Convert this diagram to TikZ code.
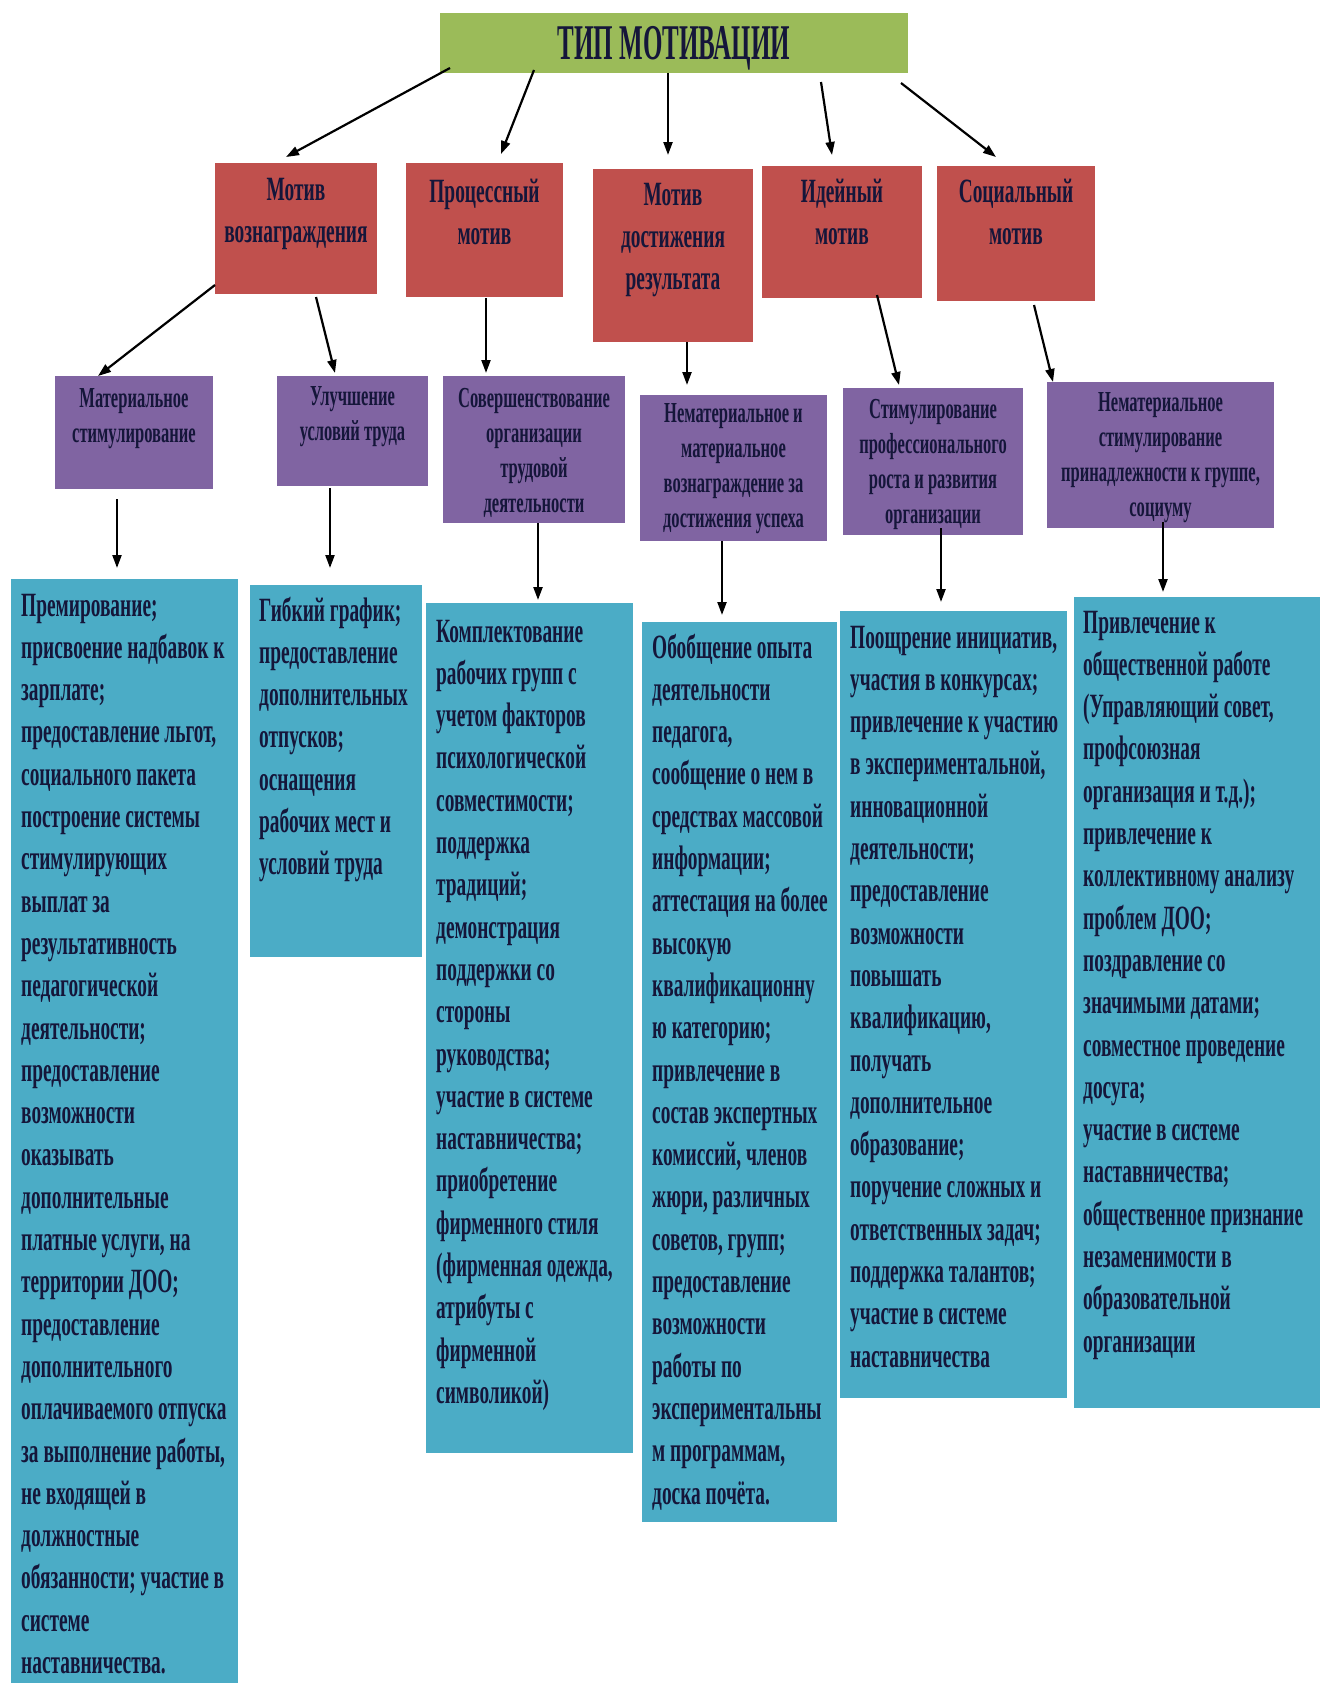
\documentclass[tikz,border=0pt]{standalone}
\usepackage{fontspec}
\setmainfont{Liberation Serif}
\newfontfamily\boxfont{Liberation Serif}[FakeStretch=0.57]
\newfontfamily\titlefont{Liberation Serif}[FakeStretch=0.5]
\usepackage{xcolor}
\usepackage{tikz}
\usetikzlibrary{arrows.meta}

\definecolor{tipgreen}{HTML}{9BBB59}
\definecolor{motred}{HTML}{C0504D}
\definecolor{subviolet}{HTML}{8064A2}
\definecolor{listblue}{HTML}{4BACC6}
\definecolor{ink}{HTML}{15163A}

\begin{document}
\begin{tikzpicture}[x=1pt,y=1pt,
  >={Triangle[length=13pt,width=9pt]},
  arr/.style={line width=2.2pt,black,->},
  box/.style={anchor=north west,inner sep=0pt,outer sep=0pt},
  bigtxt/.style={text=ink,font=\boxfont\bfseries\fontsize{34}{42.3}\selectfont,inner sep=0pt,anchor=base},
  smalltxt/.style={text=ink,font=\boxfont\bfseries\fontsize{29}{35}\selectfont,inner sep=0pt,anchor=base,align=flush center}]
\useasboundingbox (0,0) rectangle (1320,-1683);

% title
\node[box,fill=tipgreen,minimum width=468pt,minimum height=60pt,text height=33pt,text depth=0pt,
  text=ink,font=\titlefont\bfseries\fontsize{50}{60}\selectfont] (t) at (440,-13) {ТИП МОТИВАЦИИ};

% motives
\node[box,fill=motred,minimum width=162pt,minimum height=131pt] (r1) at (215,-163) {};
\node[box,fill=motred,minimum width=157pt,minimum height=134pt] (r2) at (406,-163) {};
\node[box,fill=motred,minimum width=160pt,minimum height=173pt] (r3) at (593,-169) {};
\node[box,fill=motred,minimum width=160pt,minimum height=132pt] (r4) at (762,-166) {};
\node[box,fill=motred,minimum width=158pt,minimum height=135pt] (r5) at (937,-166) {};

\node[bigtxt,align=flush center,text width=162pt] (r1t) at (296,-200) {Мотив\\вознаграждения};
\node[bigtxt,align=flush center,text width=157pt] (r2t) at (484.5,-202) {Процессный\\мотив};
\node[bigtxt,align=flush center,text width=160pt] (r3t) at (673,-205) {Мотив\\достижения\\результата};
\node[bigtxt,align=flush center,text width=160pt] (r4t) at (842,-202) {Идейный\\мотив};
\node[bigtxt,align=flush center,text width=158pt] (r5t) at (1016,-202) {Социальный\\мотив};

% ways
\node[box,fill=subviolet,minimum width=158pt,minimum height=113pt] (p1) at (55,-376) {};
\node[box,fill=subviolet,minimum width=151pt,minimum height=110pt] (p2) at (277,-376) {};
\node[box,fill=subviolet,minimum width=182pt,minimum height=147pt] (p3) at (443,-376) {};
\node[box,fill=subviolet,minimum width=187pt,minimum height=146pt] (p4) at (640,-395) {};
\node[box,fill=subviolet,minimum width=180pt,minimum height=147pt] (p5) at (843,-388) {};
\node[box,fill=subviolet,minimum width=227pt,minimum height=146pt] (p6) at (1047,-382) {};

\node[smalltxt,text width=158pt] (p1t) at (134,-407) {Материальное\\стимулирование};
\node[smalltxt,text width=151pt] (p2t) at (352.5,-405) {Улучшение\\условий труда};
\node[smalltxt,text width=182pt] (p3t) at (534,-407) {Совершенствование\\организации\\трудовой\\деятельности};
\node[smalltxt,text width=187pt] (p4t) at (733.5,-422) {Нематериальное и\\материальное\\вознаграждение за\\достижения успеха};
\node[smalltxt,text width=180pt] (p5t) at (933,-418) {Стимулирование\\профессионального\\роста и развития\\организации};
\node[smalltxt,text width=227pt] (p6t) at (1160.5,-411) {Нематериальное\\стимулирование\\принадлежности к группе,\\социуму};

% lists
\node[box,fill=listblue,minimum width=227pt,minimum height=1104pt] (b1) at (11,-579) {};
\node[box,fill=listblue,minimum width=172pt,minimum height=372pt] (b2) at (250,-585) {};
\node[box,fill=listblue,minimum width=207pt,minimum height=850pt] (b3) at (426,-603) {};
\node[box,fill=listblue,minimum width=195pt,minimum height=900pt] (b4) at (642,-622) {};
\node[box,fill=listblue,minimum width=227pt,minimum height=787pt] (b5) at (840,-611) {};
\node[box,fill=listblue,minimum width=246pt,minimum height=811pt] (b6) at (1074,-597) {};

\node[bigtxt,anchor=base west,align=flush left,text width=215pt] (b1t) at (21,-616) {Премирование;\\присвоение надбавок к\\зарплате;\\предоставление льгот,\\социального пакета\\построение системы\\стимулирующих\\выплат за\\результативность\\педагогической\\деятельности;\\предоставление\\возможности\\оказывать\\дополнительные\\платные услуги, на\\территории ДОО;\\предоставление\\дополнительного\\оплачиваемого отпуска\\за выполнение работы,\\не входящей в\\должностные\\обязанности; участие в\\системе\\наставничества.};
\node[bigtxt,anchor=base west,align=flush left,text width=162pt] (b2t) at (259,-621) {Гибкий график;\\предоставление\\дополнительных\\отпусков;\\оснащения\\рабочих мест и\\условий труда};
\node[bigtxt,anchor=base west,align=flush left,text width=195pt] (b3t) at (436,-642) {Комплектование\\рабочих групп с\\учетом факторов\\психологической\\совместимости;\\поддержка\\традиций;\\демонстрация\\поддержки со\\стороны\\руководства;\\участие в системе\\наставничества;\\приобретение\\фирменного стиля\\(фирменная одежда,\\атрибуты с\\фирменной\\символикой)};
\node[bigtxt,anchor=base west,align=flush left,text width=183pt] (b4t) at (652,-658) {Обобщение опыта\\деятельности\\педагога,\\сообщение о нем в\\средствах массовой\\информации;\\аттестация на более\\высокую\\квалификационну\\ю категорию;\\привлечение в\\состав экспертных\\комиссий, членов\\жюри, различных\\советов, групп;\\предоставление\\возможности\\работы по\\экспериментальны\\м программам,\\доска почёта.};
\node[bigtxt,anchor=base west,align=flush left,text width=215pt] (b5t) at (850,-648) {Поощрение инициатив,\\участия в конкурсах;\\привлечение к участию\\в экспериментальной,\\инновационной\\деятельности;\\предоставление\\возможности\\повышать\\квалификацию,\\получать\\дополнительное\\образование;\\поручение сложных и\\ответственных задач;\\поддержка талантов;\\участие в системе\\наставничества};
\node[bigtxt,anchor=base west,align=flush left,text width=235pt] (b6t) at (1083,-633) {Привлечение к\\общественной работе\\(Управляющий совет,\\профсоюзная\\организация и т.д.);\\привлечение к\\коллективному анализу\\проблем ДОО;\\поздравление со\\значимыми датами;\\совместное проведение\\досуга;\\участие в системе\\наставничества;\\общественное признание\\незаменимости в\\образовательной\\организации};

% connectors
\draw[arr] ([shift={(10,5)}]t.south west) -- ([shift={(71,6)}]r1.north west);
\draw[arr] ([shift={(94,3)}]t.south west) -- ([shift={(95,9)}]r2.north west);
\draw[arr] ([shift={(228,0)}]t.south west) -- ([shift={(75,14)}]r3.north west);
\draw[arr] ([shift={(-87,-9)}]t.south east) -- ([shift={(70,11)}]r4.north west);
\draw[arr] ([shift={(-7,-10)}]t.south east) -- ([shift={(59,9)}]r5.north west);

\draw[arr] ([shift={(0,9)}]r1.south west) -- ([shift={(43,0)}]p1.north west);
\draw[arr] ([shift={(101,-3)}]r1.south west) -- ([shift={(58,3)}]p2.north west);
\draw[arr] ([shift={(80,-1)}]r2.south west) -- ([shift={(43,3)}]p3.north west);
\draw[arr] ([shift={(94,0)}]r3.south west) -- ([shift={(47,10)}]p4.north west);
\draw[arr] ([shift={(115,3)}]r4.south west) -- ([shift={(56,3)}]p5.north west);
\draw[arr] ([shift={(97,-4)}]r5.south west) -- ([shift={(6,0)}]p6.north west);

\draw[arr] ([shift={(62,-10)}]p1.south west) -- ([shift={(106,11)}]b1.north west);
\draw[arr] ([shift={(53,-2)}]p2.south west) -- ([shift={(80,17)}]b2.north west);
\draw[arr] ([shift={(95,0)}]p3.south west) -- ([shift={(112,3)}]b3.north west);
\draw[arr] ([shift={(82,0)}]p4.south west) -- ([shift={(80,7)}]b4.north west);
\draw[arr] ([shift={(98,7)}]p5.south west) -- ([shift={(101,9)}]b5.north west);
\draw[arr] ([shift={(116,6)}]p6.south west) -- ([shift={(89,5)}]b6.north west);
\end{tikzpicture}
\end{document}
